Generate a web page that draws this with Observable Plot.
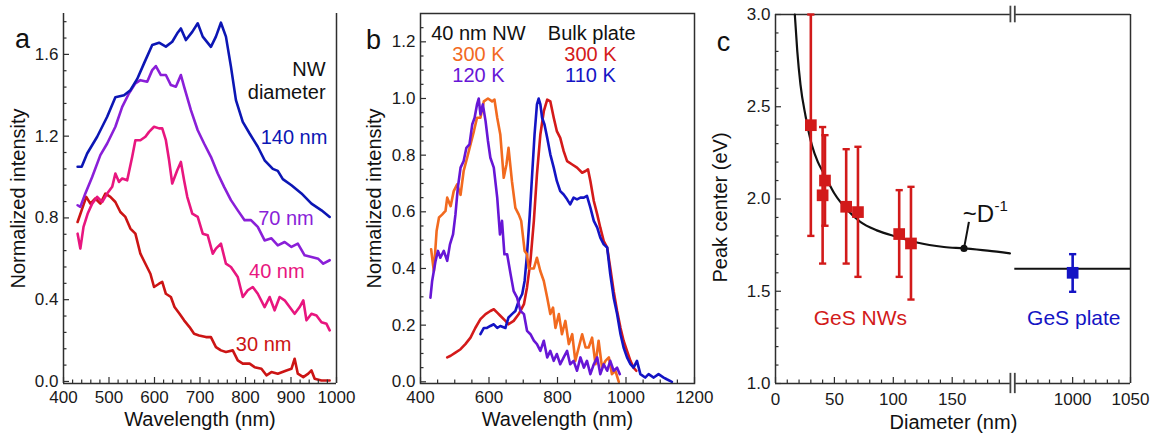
<!DOCTYPE html>
<html><head><meta charset="utf-8">
<script src="https://cdn.jsdelivr.net/npm/d3@7"></script>
<script src="https://cdn.jsdelivr.net/npm/@observablehq/plot@0.6"></script>
<style>
body{margin:0;background:#fff;}
#fig{position:relative;width:1154px;height:433px;overflow:hidden;}
</style></head><body><div id="fig"></div>
<script>
// ---------------- DATA ----------------
// Panel a: NW diameter series [wavelength nm, normalized intensity (offset)]
const a140 = [[431,1.05],[440,1.05],[452,1.115],[474,1.197],[496,1.295],[514,1.39],[533,1.40],[547,1.425],[562,1.48],[577,1.556],[595,1.646],[610,1.657],[625,1.638],[639,1.662],[650,1.703],[658,1.727],[669,1.67],[683,1.71],[695,1.752],[706,1.687],[724,1.637],[735,1.687],[746,1.755],[757,1.687],[768,1.54],[779,1.376],[794,1.27],[809,1.213],[827,1.148],[842,1.082],[860,1.04],[871,1.03],[882,0.99],[901,0.96],[923,0.92],[945,0.87],[967,0.837],[985,0.805]];
const a70 = [[431,0.862],[437,0.854],[448,0.92],[463,1.0],[481,1.107],[496,1.164],[514,1.246],[529,1.343],[544,1.41],[558,1.458],[569,1.474],[584,1.466],[595,1.523],[603,1.543],[614,1.499],[625,1.499],[636,1.45],[647,1.442],[658,1.499],[665,1.442],[680,1.327],[695,1.229],[709,1.164],[724,1.099],[739,1.017],[753,0.952],[768,0.887],[783,0.837],[798,0.789],[812,0.789],[827,0.756],[842,0.69],[857,0.70],[871,0.666],[886,0.682],[901,0.658],[915,0.674],[930,0.617],[945,0.609],[960,0.60],[971,0.576],[985,0.593]];
const a40 = [[431,0.723],[437,0.65],[444,0.756],[453,0.82],[463,0.87],[474,0.903],[485,0.878],[496,0.919],[507,0.952],[514,1.017],[522,0.976],[529,0.993],[540,0.984],[551,1.099],[558,1.18],[569,1.18],[580,1.197],[588,1.221],[599,1.246],[610,1.238],[617,1.238],[625,1.18],[632,1.083],[639,0.968],[650,1.033],[658,1.074],[665,0.984],[672,0.903],[683,0.821],[695,0.805],[706,0.723],[717,0.715],[728,0.625],[735,0.65],[746,0.674],[757,0.576],[768,0.56],[783,0.511],[794,0.413],[805,0.446],[816,0.462],[827,0.429],[842,0.364],[853,0.413],[864,0.348],[875,0.413],[886,0.397],[897,0.364],[908,0.331],[919,0.364],[927,0.397],[934,0.299],[945,0.331],[956,0.323],[967,0.29],[978,0.282],[985,0.25]];
const a30 = [[431,0.78],[440,0.838],[450,0.903],[459,0.87],[470,0.895],[481,0.87],[492,0.919],[503,0.903],[514,0.878],[525,0.829],[536,0.805],[547,0.748],[558,0.723],[569,0.625],[580,0.576],[591,0.527],[599,0.462],[610,0.478],[617,0.487],[625,0.429],[636,0.413],[644,0.364],[655,0.331],[665,0.299],[677,0.266],[687,0.233],[698,0.225],[713,0.217],[724,0.217],[735,0.168],[746,0.152],[757,0.144],[772,0.152],[783,0.103],[794,0.087],[809,0.087],[820,0.07],[835,0.062],[846,0.03],[857,0.046],[871,0.038],[890,0.054],[901,0.062],[908,0.111],[915,0.038],[927,0.021],[938,0.038],[945,0.054],[952,0.013],[967,0.005],[985,0.005]];
const aSeries = ["140 nm","70 nm","40 nm","30 nm"];
const aColors = ["#0c16b4","#8a1fd8","#e8167f","#cc1414"];
// label anchor positions for panel a (data coords)
const aLabelX = [980, 950, 930, 901];
const aLabelY = [1.194, 0.797, 0.538, 0.181];
const aTitle = ["NW", "diameter"];
const aTitleY = [1.526, 1.414];

// Panel b: [wavelength nm, normalized intensity]
const bNW300 = [[431,0.468],[439,0.39],[447,0.532],[454,0.58],[463,0.59],[473,0.603],[478,0.65],[488,0.62],[497,0.673],[507,0.697],[517,0.66],[526,0.744],[536,0.79],[546,0.838],[556,0.885],[565,0.932],[575,0.932],[585,0.99],[597,1.0],[609,0.99],[616,0.996],[624,0.932],[633,0.873],[643,0.72],[651,0.767],[657,0.826],[667,0.708],[677,0.614],[687,0.59],[694,0.568],[704,0.462],[711,0.45],[716,0.40],[731,0.40],[740,0.438],[750,0.39],[760,0.356],[770,0.297],[779,0.239],[787,0.262],[794,0.19],[804,0.239],[813,0.168],[823,0.215],[833,0.133],[843,0.168],[852,0.074],[862,0.121],[872,0.168],[882,0.121],[891,0.121],[901,0.156],[911,0.062],[920,0.145],[930,0.05],[940,0.074],[950,0.086],[959,0.027],[969,0.039],[979,0.0]];
const bNW120 = [[429,0.297],[434,0.356],[444,0.427],[451,0.462],[458,0.438],[468,0.462],[478,0.427],[486,0.485],[495,0.52],[502,0.59],[509,0.685],[517,0.756],[526,0.779],[534,0.826],[543,0.838],[551,0.908],[558,0.932],[565,0.979],[570,1.0],[575,0.944],[582,0.979],[590,0.92],[597,0.85],[604,0.791],[614,0.756],[624,0.65],[632,0.52],[638,0.568],[645,0.45],[653,0.45],[663,0.38],[672,0.32],[682,0.297],[692,0.25],[702,0.239],[711,0.18],[721,0.168],[731,0.145],[740,0.133],[750,0.109],[760,0.145],[770,0.086],[779,0.109],[789,0.074],[798,0.098],[808,0.062],[818,0.086],[828,0.109],[837,0.062],[847,0.074],[857,0.039],[867,0.086],[877,0.05],[886,0.074],[896,0.027],[906,0.062],[916,0.086],[925,0.027],[935,0.062],[945,0.039],[954,0.074],[964,0.039],[974,0.05],[982,0.027]];
const bBulk110 = [[575,0.168],[585,0.19],[594,0.19],[604,0.197],[614,0.203],[624,0.19],[633,0.197],[648,0.19],[657,0.227],[667,0.239],[677,0.25],[687,0.286],[697,0.31],[704,0.356],[711,0.45],[719,0.59],[726,0.732],[733,0.873],[740,0.979],[745,1.0],[750,0.979],[755,0.932],[762,0.908],[770,0.861],[779,0.803],[789,0.756],[798,0.709],[808,0.673],[818,0.661],[828,0.644],[837,0.626],[847,0.65],[857,0.644],[867,0.65],[877,0.65],[886,0.656],[896,0.615],[906,0.568],[916,0.544],[925,0.509],[935,0.485],[945,0.474],[954,0.38],[964,0.297],[974,0.239],[984,0.168],[993,0.121],[1003,0.086],[1013,0.062],[1022,0.05],[1032,0.074],[1042,0.027],[1056,0.015],[1066,0.027],[1081,0.015],[1095,0.027],[1110,0.015],[1119,0.009],[1134,0.0]];
const bBulk300 = [[478,0.086],[488,0.092],[502,0.103],[517,0.115],[531,0.133],[546,0.156],[560,0.19],[575,0.221],[590,0.239],[604,0.25],[614,0.256],[624,0.244],[633,0.233],[648,0.215],[657,0.203],[672,0.215],[687,0.239],[702,0.274],[711,0.333],[721,0.427],[731,0.568],[740,0.732],[750,0.873],[760,0.955],[770,0.996],[779,0.99],[789,0.932],[798,0.885],[808,0.861],[818,0.814],[828,0.779],[843,0.767],[857,0.756],[872,0.738],[882,0.744],[889,0.75],[896,0.709],[906,0.638],[916,0.591],[925,0.544],[935,0.497],[945,0.474],[954,0.403],[964,0.32],[974,0.25],[984,0.19],[993,0.145],[1003,0.109],[1013,0.074],[1022,0.05],[1030,0.039]];
const bColors = {nw300:"#f26a1f", nw120:"#6716d6", bulk300:"#d41a1a", bulk110:"#1414c4"};
const bHeadX = [569, 900];
const bHeadText = ["40 nm NW", "Bulk plate"];
const bTempText = ["300 K","120 K","300 K","110 K"];
const bTempX = [569, 569, 896, 896];
const bTempY = [1.154, 1.08, 1.154, 1.08];
const bHeadY = 1.228;

// Panel c: peak center vs diameter
const nwD  = [30, 40, 42, 60, 70, 105, 115];
const nwE  = [2.40, 2.02, 2.10, 1.958, 1.929, 1.81, 1.759];
const nwLo = [1.80, 1.65, 1.855, 1.65, 1.578, 1.578, 1.455];
const nwHi = [3.00, 2.39, 2.346, 2.27, 2.283, 2.048, 2.066];
const plateD = [1000], plateE = [1.60], plateLo = [1.497], plateHi = [1.701];
const plateLevel = 1.622;
const fitCurve = [[16.4,3.0],[18.5,2.80],[21.2,2.62],[25.5,2.45],[31,2.29],[36,2.20],[41,2.14],[50,2.03],[61,1.94],[72,1.876],[86,1.83],[103,1.795],[120,1.764],[143,1.74],[160,1.732],[180,1.72],[199,1.705]];
const markerPt = [160, 1.732];
const leaderEnd = [164.2, 1.876];

// ---------------- DRAWING ----------------
const H = 433;
const FONT = "Liberation Sans, Arial, sans-serif";
const AX = "#2e2e2e";
const fig = document.getElementById("fig");
function place(svg, left) {
  svg.style.position = "absolute";
  svg.style.left = left + "px";
  svg.style.top = "0px";
  svg.style.overflow = "visible";
  fig.appendChild(svg);
}
const baseStyle = {fontFamily: FONT, color: "#1a1a1a", background: "transparent", overflow: "visible"};
const rows = (arr, s) => arr.map(([x, y]) => ({x, y, s}));
const range = (a, b, step) => d3.range(Math.round((b - a) / step) + 1).map(i => +(a + i * step).toFixed(4));

function tickMarksX(vals, len, innerH) {
  return Plot.tickX(vals, {x: d => d, insetTop: innerH - len, stroke: AX, strokeWidth: 1.2});
}
function tickMarksY(vals, len, innerW) {
  return Plot.tickY(vals, {y: d => d, insetRight: innerW - len, stroke: AX, strokeWidth: 1.2});
}

// ---- Panel a ----
{
  const W = 360, ML = 63, MR = 24, MT = 13, MB = 50;
  const iW = W - ML - MR, iH = H - MT - MB;
  const xDom = [400, 1000], yDom = [-0.01, 1.8];
  const xMaj = range(400, 1000, 100);
  const xMin = range(400, 1000, 20).filter(v => v % 100 !== 0);
  const yMaj = [0, 0.4, 0.8, 1.2, 1.6];
  const yMin = range(0, 1.76, 0.08).filter(v => !yMaj.some(m => Math.abs(m - v) < 1e-6));
  const data = [a30, a40, a70, a140];
  const order = [3, 2, 1, 0];
  const svg = Plot.plot({
    width: W, height: H, marginLeft: ML, marginRight: MR, marginTop: MT, marginBottom: MB,
    x: {domain: xDom, label: null}, y: {domain: yDom, label: null},
    style: baseStyle,
    marks: [
      ...data.map((d, i) => Plot.line(rows(d, aSeries[order[i]]), {x: "x", y: "y", stroke: aColors[order[i]], strokeWidth: 2.6, strokeLinejoin: "round"})),
      Plot.text(aSeries.map((s, i) => ({s, x: aLabelX[i], y: aLabelY[i], c: aColors[i]})), {x: "x", y: "y", text: "s", fill: d => d.c, textAnchor: "end", lineAnchor: "middle", fontSize: 20}),
      Plot.text(aTitle.map((t, i) => ({t, y: aTitleY[i]})), {x: () => 976, y: "y", text: "t", fill: "#111", textAnchor: "end", lineAnchor: "middle", fontSize: 20}),
      Plot.ruleX([xDom[0], xDom[1]], {stroke: AX, strokeWidth: 1.5}),
      Plot.ruleY([yDom[0]], {stroke: AX, strokeWidth: 1.5}),
      tickMarksX(xMaj, 6, iH), tickMarksX(xMin, 3.5, iH),
      tickMarksY(yMaj, 6, iW), tickMarksY(yMin, 3.5, iW),
      Plot.axisX({ticks: xMaj, tickSize: 0, tickPadding: 7, fontSize: 17, label: null, tickFormat: d => String(d)}),
      Plot.axisY({ticks: yMaj, tickSize: 0, tickPadding: 5, fontSize: 17, label: null, tickFormat: d3.format(".1f")}),
      Plot.text(["Wavelength (nm)"], {frameAnchor: "bottom", dy: 36, textAnchor: "middle", lineAnchor: "middle", fontSize: 20, fill: "#111"}),
      Plot.text(["Normalized intensity"], {frameAnchor: "left", dx: -45, rotate: -90, textAnchor: "middle", lineAnchor: "middle", fontSize: 20, fill: "#111"}),
      Plot.text(["a"], {frameAnchor: "top-left", dx: -41, dy: 26, textAnchor: "middle", lineAnchor: "middle", fontSize: 27, fill: "#111"})
    ]
  });
  place(svg, 0);
}

// ---- Panel b ----
{
  const W = 360, ML = 60, MR = 26, MT = 13, MB = 50;
  const iW = W - ML - MR, iH = H - MT - MB;
  const xDom = [400, 1200], yDom = [-0.006, 1.3];
  const xMaj = range(400, 1200, 200);
  const xMin = range(450, 1150, 50).filter(v => v % 200 !== 0);
  const yMaj = range(0, 1.2, 0.2);
  const yMin = range(0, 1.25, 0.05).filter(v => !yMaj.some(m => Math.abs(m - v) < 1e-6));
  const svg = Plot.plot({
    width: W, height: H, marginLeft: ML, marginRight: MR, marginTop: MT, marginBottom: MB,
    x: {domain: xDom, label: null}, y: {domain: yDom, label: null},
    style: baseStyle,
    marks: [
      Plot.line(rows(bBulk300, "bulk300"), {x: "x", y: "y", stroke: bColors.bulk300, strokeWidth: 2.6, strokeLinejoin: "round"}),
      Plot.line(rows(bBulk110, "bulk110"), {x: "x", y: "y", stroke: bColors.bulk110, strokeWidth: 2.6, strokeLinejoin: "round"}),
      Plot.line(rows(bNW300, "nw300"), {x: "x", y: "y", stroke: bColors.nw300, strokeWidth: 2.6, strokeLinejoin: "round"}),
      Plot.line(rows(bNW120, "nw120"), {x: "x", y: "y", stroke: bColors.nw120, strokeWidth: 2.6, strokeLinejoin: "round"}),
      Plot.text(bHeadText.map((t, i) => ({t, x: bHeadX[i]})), {x: "x", y: () => bHeadY, text: "t", fill: "#111", textAnchor: "middle", lineAnchor: "middle", fontSize: 20}),
      Plot.text(bTempText.map((t, i) => ({t, x: bTempX[i], y: bTempY[i], c: [bColors.nw300, bColors.nw120, bColors.bulk300, bColors.bulk110][i]})), {x: "x", y: "y", text: "t", fill: d => d.c, textAnchor: "middle", lineAnchor: "middle", fontSize: 20}),
      Plot.frame({stroke: AX, strokeWidth: 1.5}),
      tickMarksX(xMaj, 6, iH), tickMarksX(xMin, 3.5, iH),
      tickMarksY(yMaj, 6, iW), tickMarksY(yMin, 3.5, iW),
      Plot.axisX({ticks: xMaj, tickSize: 0, tickPadding: 7, fontSize: 17, label: null, tickFormat: d => String(d)}),
      Plot.axisY({ticks: yMaj, tickSize: 0, tickPadding: 5, fontSize: 17, label: null, tickFormat: d3.format(".1f")}),
      Plot.text(["Wavelength (nm)"], {frameAnchor: "bottom", dy: 36, textAnchor: "middle", lineAnchor: "middle", fontSize: 20, fill: "#111"}),
      Plot.text(["Normalized intensity"], {frameAnchor: "left", dx: -46, rotate: -90, textAnchor: "middle", lineAnchor: "middle", fontSize: 20, fill: "#111"}),
      Plot.text(["b"], {frameAnchor: "top-left", dx: -47, dy: 27, textAnchor: "middle", lineAnchor: "middle", fontSize: 27, fill: "#111"})
    ]
  });
  place(svg, 360);
}

// ---- Panel c ----
{
  const W = 454, MT = 14, MB = 50;
  const iH = H - MT - MB;
  const brk = [199.4, 950];
  const xDom = [0, brk[0], brk[1], 1050];
  const xRange = [75, 309.9, 314.3, 430];
  const iW = 430 - 75;
  const yDom = [1, 3];
  const red = "#d21a1a", blue = "#1414c4";
  const xMaj = [0, 50, 100, 150, 1000, 1050];
  const xMin = [...range(10, 190, 10).filter(v => v % 50 !== 0), ...range(960, 1040, 10).filter(v => v % 50 !== 0)];
  const yMaj = range(1, 3, 0.5);
  const yMin = range(1, 3, 0.1).filter(v => !yMaj.some(m => Math.abs(m - v) < 1e-6));
  const nw = nwD.map((d, i) => ({d, e: nwE[i], lo: nwLo[i], hi: nwHi[i]}));
  const pl = plateD.map((d, i) => ({d, e: plateE[i], lo: plateLo[i], hi: plateHi[i]}));
  const capSymbol = {draw(ctx, size) { const w = Math.sqrt(size / Math.PI); ctx.moveTo(-w, 0); ctx.lineTo(w, 0); }};
  const caps = (arr) => arr.flatMap(r => [{d: r.d, v: r.lo}, {d: r.d, v: r.hi}]);
  const svg = Plot.plot({
    width: W, height: H, marginLeft: 75, marginRight: 24, marginTop: MT, marginBottom: MB,
    x: {type: "linear", domain: xDom, range: xRange, label: null},
    y: {domain: yDom, label: null},
    style: baseStyle,
    marks: [
      // frame with axis break
      Plot.ruleX([0, 1050], {stroke: AX, strokeWidth: 1.5}),
      Plot.ruleY([1, 3], {x1: 0, x2: brk[0], stroke: AX, strokeWidth: 1.5}),
      Plot.ruleY([1, 3], {x1: brk[1], x2: 1050, stroke: AX, strokeWidth: 1.5}),
      Plot.ruleX(brk, {y1: 2.955, y2: 3.045, stroke: "#444", strokeWidth: 1.8}),
      Plot.ruleX(brk, {y1: 0.945, y2: 1.055, stroke: "#444", strokeWidth: 1.8}),
      tickMarksX(xMaj, 6, iH), tickMarksX(xMin, 3.5, iH),
      tickMarksY(yMaj, 6, iW), tickMarksY(yMin, 3.5, iW),
      // fit curve and bulk level
      Plot.line(fitCurve, {x: d => d[0], y: d => d[1], stroke: "#111", strokeWidth: 2.2, curve: "monotone-x"}),
      Plot.ruleY([plateLevel], {x1: brk[1], x2: 1050, stroke: "#111", strokeWidth: 2.2}),
      // error bars
      Plot.ruleX(nw, {x: "d", y1: "lo", y2: "hi", stroke: red, strokeWidth: 2.6}),
      Plot.dot(caps(nw), {x: "d", y: "v", symbol: capSymbol, r: 3.6, stroke: red, strokeWidth: 2.4, fill: "none"}),
      Plot.ruleX(pl, {x: "d", y1: "lo", y2: "hi", stroke: blue, strokeWidth: 2.6}),
      Plot.dot(caps(pl), {x: "d", y: "v", symbol: capSymbol, r: 3.6, stroke: blue, strokeWidth: 2.4, fill: "none"}),
      Plot.dot(nw, {x: "d", y: "e", symbol: "square", r: 6.6, fill: red, stroke: "none"}),
      Plot.dot(pl, {x: "d", y: "e", symbol: "square", r: 6.6, fill: blue, stroke: "none"}),
      // annotation ~D^-1
      Plot.link([{x1: markerPt[0], y1: markerPt[1], x2: leaderEnd[0], y2: leaderEnd[1]}], {x1: "x1", y1: "y1", x2: "x2", y2: "y2", stroke: "#111", strokeWidth: 2}),
      Plot.dot([markerPt], {x: d => d[0], y: d => d[1], r: 3.6, fill: "#111"}),
      Plot.text(["~D"], {x: () => 159, y: () => 1.915, textAnchor: "start", lineAnchor: "middle", fontSize: 24, fill: "#111"}),
      Plot.text(["-1"], {x: () => 186, y: () => 1.963, textAnchor: "start", lineAnchor: "middle", fontSize: 15, fill: "#111"}),
      Plot.text(["GeS NWs"], {x: () => 72, y: () => 1.352, textAnchor: "middle", lineAnchor: "middle", fontSize: 21, fill: red}),
      Plot.text(["GeS plate"], {x: () => 1001, y: () => 1.352, textAnchor: "middle", lineAnchor: "middle", fontSize: 21, fill: blue}),
      Plot.axisX({ticks: xMaj, tickSize: 0, tickPadding: 9, fontSize: 17, label: null, tickFormat: d => String(d)}),
      Plot.axisY({ticks: yMaj, tickSize: 0, tickPadding: 5, fontSize: 17, label: null, tickFormat: d3.format(".1f")}),
      Plot.text(["Diameter (nm)"], {x: () => 151, frameAnchor: "bottom", dy: 39, textAnchor: "middle", lineAnchor: "middle", fontSize: 20, fill: "#111"}),
      Plot.text(["Peak center (eV)"], {y: () => 1.954, frameAnchor: "left", dx: -55, rotate: -90, textAnchor: "middle", lineAnchor: "middle", fontSize: 20, fill: "#111"}),
      Plot.text(["c"], {frameAnchor: "top-left", dx: -52, dy: 28, textAnchor: "middle", lineAnchor: "middle", fontSize: 27, fill: "#111"})
    ]
  });
  place(svg, 700);
}
</script></body></html>
